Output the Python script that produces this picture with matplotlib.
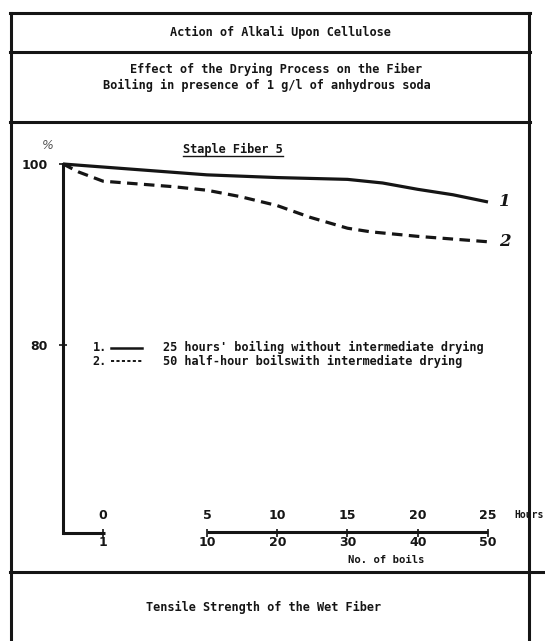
import numpy as np
import matplotlib
matplotlib.use("Agg")
import matplotlib.pyplot as plt
from matplotlib.lines import Line2D
from matplotlib.scale import FuncScale

# --- data -------------------------------------------------------------
# curve 1: 25 hours' boiling without intermediate drying
boils_1 = [0, 10, 20, 30, 35, 40, 45, 50]
strength_1 = [100, 98.8, 98.5, 98.3, 97.9, 97.2, 96.6, 95.8]

# curve 2: 50 half-hour boils with intermediate drying
boils_2 = [0, 0.4, 1, 7, 10, 14.7, 20, 24.7, 30, 33.3, 40, 50]
strength_2 = [100, 99.1, 98.1, 97.5, 97.1, 96.4, 95.4, 94.1, 92.9, 92.5, 92.0, 91.4]

tick_boils = [1, 10, 20, 30, 40, 50]
tick_hours = [0, 5, 10, 15, 20, 25]
y_ticks = [100, 80]

title = "Action of Alkali Upon Cellulose"
subtitle_1 = "Effect of the Drying Process on the Fiber"
subtitle_2 = "Boiling in presence of 1 g/l of anhydrous soda"
panel_title = "Staple Fiber 5"
legend_1 = "25 hours' boiling without intermediate drying"
legend_2 = "50 half-hour boilswith intermediate drying"
footer = "Tensile Strength of the Wet Fiber"

# --- figure -----------------------------------------------------------
W, H = 545, 641
fig = plt.figure(figsize=(W / 100, H / 100), dpi=100)
fig.patch.set_facecolor("white")
FONT = "DejaVu Sans Mono"
INK = "#151515"
TXT = 8.6


def fx(px):
    return px / W


def fy(py):
    return 1 - py / H


def hline(y, x0, x1, lw=2.2):
    fig.add_artist(Line2D([fx(x0), fx(x1)], [fy(y), fy(y)], color=INK, lw=lw,
                          transform=fig.transFigure))


def vline(x, y0, y1, lw=2.2):
    fig.add_artist(Line2D([fx(x), fx(x)], [fy(y0), fy(y1)], color=INK, lw=lw,
                          transform=fig.transFigure))


# page frame with ruled header / footer rows
hline(13, 10, 530)
hline(52, 10, 530)
hline(122, 10, 530)
hline(572, 10, 545)
vline(11, 13, 641)
vline(529, 13, 641)

fig.text(fx(280), fy(32), title, ha="center", va="center", fontsize=TXT,
         fontweight="bold", family=FONT, color=INK)
fig.text(fx(276), fy(69), subtitle_1, ha="center", va="center", fontsize=TXT,
         fontweight="bold", family=FONT, color=INK)
fig.text(fx(267), fy(85), subtitle_2, ha="center", va="center", fontsize=TXT,
         fontweight="bold", family=FONT, color=INK)
fig.text(fx(264), fy(607), footer, ha="center", va="center", fontsize=TXT,
         fontweight="bold", family=FONT, color=INK)

# --- axes -------------------------------------------------------------
x0, x1, ytop, ybot = 63, 488, 164, 533
ax = fig.add_axes([fx(x0), fy(ybot), (x1 - x0) / W, (ybot - ytop) / H])

# broken boils axis: first boil stretched, then a uniform run from 10 to 50
kb = np.array([0, 1, 10, 50], dtype=float)
kp = np.array([0, 40, 144, 425], dtype=float)
ax.set_xscale(FuncScale(ax.xaxis, (lambda v: np.interp(v, kb, kp),
                                   lambda p: np.interp(p, kp, kb))))
ax.set_xlim(0, 50)
ax.set_ylim(59.2, 100)

ax.plot(boils_1, strength_1, color=INK, lw=2.3, clip_on=False,
        solid_capstyle="butt")
ax.plot(boils_2, strength_2, color=INK, lw=2.3, clip_on=False,
        linestyle=(0, (3.3, 2.0)))

for s in ("top", "right", "bottom"):
    ax.spines[s].set_visible(False)
ax.spines["left"].set_linewidth(2.2)
ax.spines["left"].set_color(INK)

# bottom axis drawn in two pieces
base = ax.get_ylim()[0]
ax.plot([0, tick_boils[0] + 0.2], [base, base], color=INK, lw=2.2,
        clip_on=False, solid_capstyle="butt")
ax.plot([tick_boils[1], tick_boils[-1]], [base + 0.1, base + 0.1], color=INK,
        lw=2.2, clip_on=False, solid_capstyle="butt")

ax.set_xticks(tick_boils)
ax.set_xticklabels([str(b) for b in tick_boils], fontsize=9, fontweight="bold",
                   family="DejaVu Sans")
ax.tick_params(axis="x", direction="inout", length=6, width=1.2, pad=-1,
               colors=INK)
for b, h in zip(tick_boils, tick_hours):
    ax.text(b, base + 1.2, str(h), ha="center", va="bottom", fontsize=9,
            fontweight="bold", family="DejaVu Sans", color=INK)
ax.text(1.062, 0.048, "Hours", transform=ax.transAxes, ha="left",
        va="center", fontsize=7, fontweight="bold", family=FONT, color=INK)
ax.text(0.76, -0.073, "No. of boils", transform=ax.transAxes, ha="center",
        va="center", fontsize=7.6, fontweight="bold", family=FONT, color=INK)

ax.set_yticks(y_ticks)
ax.set_yticklabels([str(v) for v in y_ticks], fontsize=9, fontweight="bold",
                   family="DejaVu Sans")
ax.tick_params(axis="y", direction="inout", length=6, width=1.2, pad=8,
               colors=INK)
ax.text(-0.035, 1.05, "%", transform=ax.transAxes, ha="center", va="center",
        fontsize=9, style="italic", color="#555555")

ax.text(0.40, 1.04, panel_title, transform=ax.transAxes, ha="center",
        va="center", fontsize=TXT, fontweight="bold", family=FONT, color=INK)
ax.plot([0.283, 0.517], [1.022, 1.022], transform=ax.transAxes, color=INK,
        lw=1.0, clip_on=False)

# curve numbers at the line ends
ax.annotate("1", (boils_1[-1], strength_1[-1]), xytext=(12, 0),
            textcoords="offset points", ha="center", va="center", fontsize=12,
            fontweight="bold", style="italic", family="DejaVu Serif",
            color=INK)
ax.annotate("2", (boils_2[-1], strength_2[-1]), xytext=(12, 0),
            textcoords="offset points", ha="center", va="center", fontsize=12,
            fontweight="bold", style="italic", family="DejaVu Serif",
            color=INK)

# legend
for i, (lab, ls, yy) in enumerate([(legend_1, "-", 0.502),
                                   (legend_2, (0, (1.6, 1.2)), 0.465)]):
    ax.text(0.087, yy, f"{i + 1}.", transform=ax.transAxes, ha="center",
            va="center", fontsize=TXT, fontweight="bold", family=FONT,
            color=INK)
    ax.plot([0.112, 0.185], [yy, yy], transform=ax.transAxes, color=INK,
            lw=1.8 if ls == "-" else 1.4, linestyle=ls, clip_on=False)
    ax.text(0.235, yy, lab, transform=ax.transAxes, ha="left", va="center",
            fontsize=TXT, fontweight="bold", family=FONT, color=INK)

fig.savefig("out.png", dpi=100, facecolor="white")
